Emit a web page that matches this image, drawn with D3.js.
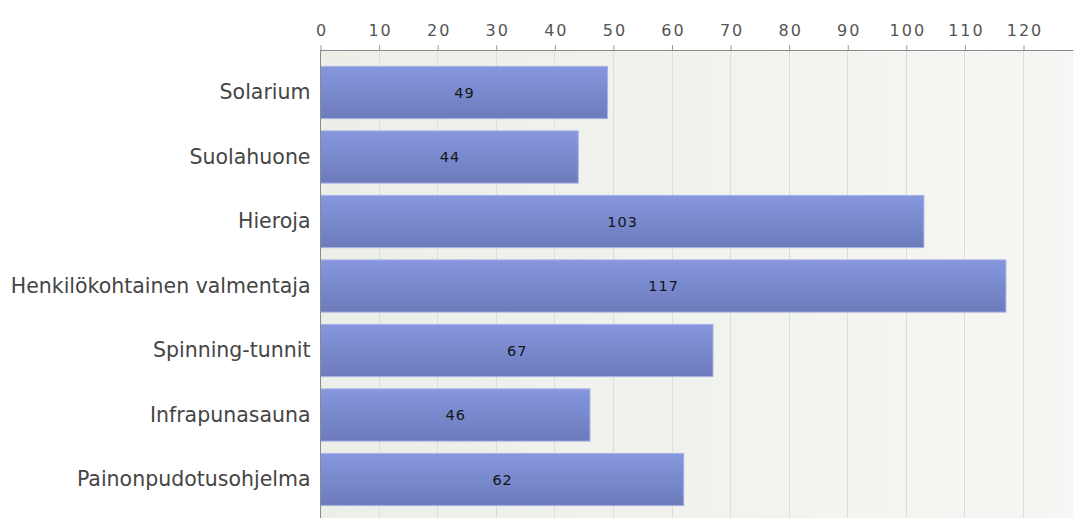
<!DOCTYPE html>
<html>
<head>
<meta charset="utf-8">
<script src="https://cdn.jsdelivr.net/npm/d3@7"></script>
<style>
  html, body { margin: 0; padding: 0; background: #ffffff; }
  svg { display: block; }
</style>
</head>
<body>
<svg id="chart" width="1074" height="518"></svg>
<script>
// Services and how many respondents picked each one
const categories = [
  "Solarium",
  "Suolahuone",
  "Hieroja",
  "Henkilökohtainen valmentaja",
  "Spinning-tunnit",
  "Infrapunasauna",
  "Painonpudotusohjelma"
];
const values = [49, 44, 103, 117, 67, 46, 62];
const tickValues = [0, 10, 20, 30, 40, 50, 60, 70, 80, 90, 100, 110, 120];

const width = 1074, height = 518;
const plot = { left: 320, right: 1073, top: 50, bottom: 518 };

const svg = d3.select("#chart");
const defs = svg.append("defs");

const bgGrad = defs.append("linearGradient").attr("id", "bgGrad")
  .attr("x1", "0").attr("y1", "0").attr("x2", "1").attr("y2", "0");
bgGrad.append("stop").attr("offset", "0").attr("stop-color", "#eceee8");
bgGrad.append("stop").attr("offset", "1").attr("stop-color", "#f6f7f4");

const barGrad = defs.append("linearGradient").attr("id", "barGrad")
  .attr("x1", "0").attr("y1", "0").attr("x2", "0").attr("y2", "1");
barGrad.append("stop").attr("offset", "0").attr("stop-color", "#8697df");
barGrad.append("stop").attr("offset", "1").attr("stop-color", "#6b7bbb");

const x = d3.scaleLinear().domain([0, 120]).range([320, 1023]);
const y = d3.scaleBand().domain(categories).range([60.25, 511.75])
  .paddingInner(0.19).paddingOuter(0.095);

// plot background
svg.append("rect")
  .attr("x", plot.left).attr("y", plot.top)
  .attr("width", plot.right - plot.left).attr("height", plot.bottom - plot.top)
  .attr("fill", "url(#bgGrad)");

// vertical grid lines
svg.append("g").selectAll("line")
  .data(tickValues.filter(d => d > 0))
  .join("line")
  .attr("x1", d => Math.round(x(d)) + 0.5).attr("x2", d => Math.round(x(d)) + 0.5)
  .attr("y1", plot.top).attr("y2", plot.bottom)
  .attr("stroke", "#dcdedb").attr("stroke-width", 1);

// bars
const bars = svg.append("g");
bars.selectAll("rect")
  .data(values)
  .join("rect")
  .attr("x", x(0) + 0.5)
  .attr("y", (d, i) => y(categories[i]))
  .attr("width", d => x(d) - x(0))
  .attr("height", y.bandwidth())
  .attr("fill", "url(#barGrad)")
  .attr("stroke", "#a9b3e6")
  .attr("stroke-width", 1);

// value labels, centred within each bar
bars.selectAll("text")
  .data(values)
  .join("text")
  .attr("x", d => x(d / 2) + 1)
  .attr("y", (d, i) => y(categories[i]) + y.bandwidth() / 2)
  .attr("dy", "0.36em")
  .attr("text-anchor", "middle")
  .attr("font-family", "DejaVu Sans, sans-serif")
  .attr("font-size", 14.5)
  .attr("letter-spacing", 1)
  .attr("fill", "#151515")
  .text(d => d);

// top axis
const xAxis = d3.axisTop(x).tickValues(tickValues).tickSize(5).tickPadding(9);
const gx = svg.append("g").attr("transform", `translate(0.5,${plot.top})`).call(xAxis);
gx.selectAll(".tick line").attr("stroke", "#9a9a9a");
gx.selectAll(".tick text")
  .attr("font-family", "DejaVu Sans, sans-serif")
  .attr("font-size", 16)
  .attr("letter-spacing", 2)
  .attr("dx", 1)
  .attr("fill", "#555");
gx.select(".domain").attr("stroke", "#8a8a8a").attr("d", `M${plot.left - 0.5},0.5H${plot.right}`);

// left axis
const yAxis = d3.axisLeft(y).tickSize(0).tickPadding(10);
const gy = svg.append("g").attr("transform", `translate(${plot.left + 0.5},0)`).call(yAxis);
gy.select(".domain").attr("stroke", "#8a8a8a").attr("d", `M0,${plot.top}V${plot.bottom}`);
gy.selectAll(".tick text")
  .attr("font-family", "DejaVu Sans, sans-serif")
  .attr("font-size", 20.5)
  .attr("fill", "#454545");
</script>
</body>
</html>
